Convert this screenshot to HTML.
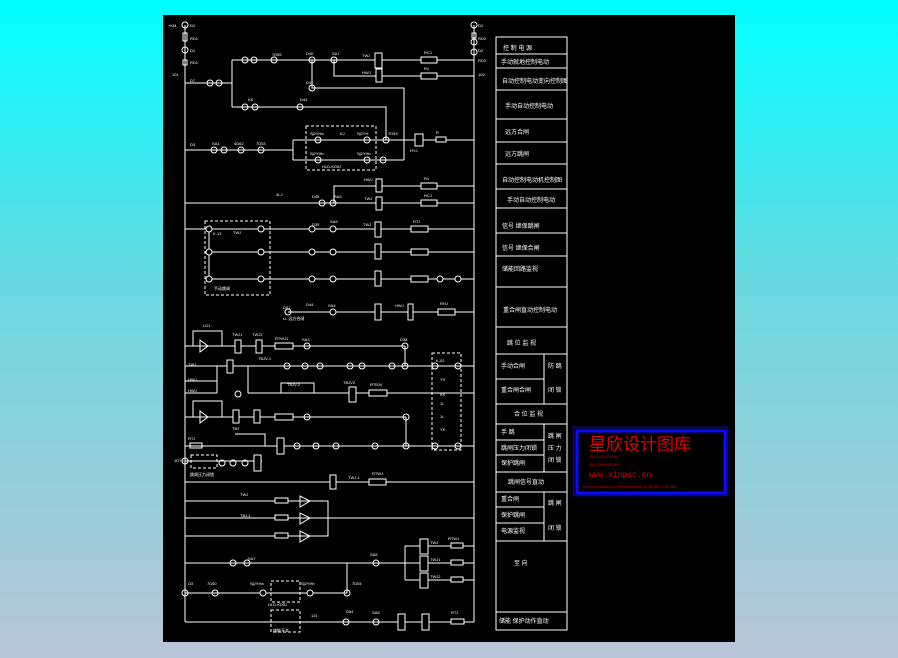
<!DOCTYPE html>
<html><head><meta charset="utf-8"><style>
html,body{margin:0;padding:0;width:898px;height:658px;overflow:hidden;background:linear-gradient(#00ffff 0%,#6fd8e0 45%,#b9c5d6 100%);}
svg{position:absolute;left:0;top:0}
text{font-family:"Liberation Sans","Noto Sans CJK SC",sans-serif;fill:#fff}
</style></head><body>
<svg width="898" height="658" viewBox="0 0 898 658">
<rect x="163" y="15" width="572" height="627" fill="#000"/>
<g stroke="#fff" stroke-width="1" fill="none">
<!-- buses -->
<line x1="185" y1="83" x2="185" y2="622"/>
<line x1="474" y1="60" x2="474" y2="622"/>
<line x1="185" y1="25" x2="185" y2="83"/>
<line x1="474" y1="25" x2="474" y2="60"/>
<circle cx="185" cy="25" r="3"/><rect x="183" y="33" width="4" height="8"/><circle cx="185" cy="50" r="3"/><rect x="183" y="60" width="4" height="5"/>
<circle cx="474" cy="25" r="3"/><rect x="472" y="33" width="4" height="5"/><circle cx="474" cy="42" r="3"/><circle cx="474" cy="52" r="3"/>
<!-- top rows -->
<line x1="185" y1="83" x2="232" y2="83"/><circle cx="210" cy="83" r="3"/><circle cx="219" cy="83" r="3"/>
<line x1="232" y1="60" x2="232" y2="107"/>
<line x1="232" y1="60" x2="474" y2="60"/><circle cx="245" cy="60" r="3"/><circle cx="254" cy="60" r="3"/><circle cx="274" cy="60" r="3"/><circle cx="312" cy="60" r="3"/><circle cx="334" cy="60" r="3"/>
<rect x="375" y="53" width="7" height="15" fill="#000"/><rect x="421" y="57" width="16" height="6" fill="#000"/>
<polyline points="334,60 334,76 474,76"/><rect x="376" y="69" width="6" height="13" fill="#000"/><rect x="421" y="73" width="16" height="6" fill="#000"/>
<polyline points="312,60 312,88 404,88 404,160"/><circle cx="312" cy="88" r="3"/>
<polyline points="232,107 386,107 386,140"/><circle cx="245" cy="107" r="3"/><circle cx="255" cy="107" r="3"/><circle cx="300" cy="107" r="3"/>
<line x1="185" y1="150" x2="293" y2="150"/><circle cx="214" cy="150" r="3"/><circle cx="224" cy="150" r="3"/><circle cx="241" cy="150" r="3"/><circle cx="261" cy="150" r="3"/>
<polyline points="293,140 293,160"/><line x1="293" y1="140" x2="474" y2="140"/><line x1="293" y1="160" x2="404" y2="160"/>
<circle cx="318" cy="140" r="3"/><circle cx="367" cy="140" r="3"/><circle cx="386" cy="140" r="3"/><circle cx="318" cy="160" r="3"/><circle cx="367" cy="160" r="3"/><circle cx="383" cy="160" r="3"/>
<rect x="306" y="126" width="70" height="44" stroke-dasharray="3,2"/>
<rect x="415" y="134" width="8" height="12" fill="#000"/><rect x="436" y="137" width="10" height="5" fill="#000"/>
<polyline points="334,203 334,186 474,186"/><rect x="376" y="179" width="6" height="13" fill="#000"/><rect x="421" y="183" width="16" height="6" fill="#000"/>
<line x1="185" y1="203" x2="474" y2="203"/><circle cx="322" cy="203" r="3"/><circle cx="333" cy="203" r="3"/><rect x="376" y="197" width="6" height="13" fill="#000"/><rect x="421" y="200" width="16" height="6" fill="#000"/>
<!-- rows 229 252 279 -->
<line x1="185" y1="229" x2="474" y2="229"/><line x1="209" y1="252" x2="474" y2="252"/><line x1="209" y1="279" x2="474" y2="279"/><line x1="209" y1="229" x2="209" y2="279"/>
<g fill="#000">
<circle cx="209" cy="229" r="3"/><circle cx="261" cy="229" r="3"/><circle cx="312" cy="229" r="3"/><circle cx="333" cy="229" r="3"/>
<circle cx="209" cy="252" r="3"/><circle cx="261" cy="252" r="3"/><circle cx="312" cy="252" r="3"/><circle cx="333" cy="252" r="3"/>
<circle cx="209" cy="279" r="3"/><circle cx="261" cy="279" r="3"/><circle cx="312" cy="279" r="3"/><circle cx="333" cy="279" r="3"/><circle cx="440" cy="279" r="3"/><circle cx="458" cy="279" r="3"/>
<rect x="375" y="222" width="6" height="15"/><rect x="411" y="226" width="17" height="6"/>
<rect x="375" y="244" width="6" height="15"/><rect x="411" y="249" width="17" height="6"/>
<rect x="375" y="271" width="6" height="15"/><rect x="411" y="276" width="17" height="6"/>
</g>
<rect x="205" y="221" width="65" height="74" stroke-dasharray="3,2"/>
<line x1="288" y1="312" x2="474" y2="312"/><circle cx="288" cy="312" r="3"/><circle cx="333" cy="312" r="3" fill="#000"/><rect x="375" y="304" width="6" height="16" fill="#000"/><rect x="408" y="304" width="5" height="16" fill="#000"/><rect x="438" y="309" width="17" height="6" fill="#000"/>
<!-- diode rows -->
<line x1="185" y1="346" x2="405" y2="346"/><polyline points="193,346 193,331 222,331 222,346"/><polygon points="200,340 200,352 208,346"/><rect x="235" y="340" width="6" height="13" fill="#000"/><rect x="256" y="340" width="6" height="13" fill="#000"/><rect x="275" y="343" width="18" height="6" fill="#000"/><circle cx="307" cy="346" r="3"/><circle cx="405" cy="346" r="3"/>
<line x1="405" y1="346" x2="405" y2="366"/>
<line x1="185" y1="366" x2="474" y2="366"/><rect x="227" y="360" width="6" height="13" fill="#000"/><circle cx="287" cy="366" r="3"/><circle cx="305" cy="366" r="3"/><circle cx="320" cy="366" r="3"/><circle cx="350" cy="366" r="3"/><circle cx="362" cy="366" r="3"/><circle cx="392" cy="366" r="3"/><circle cx="405" cy="366" r="3"/><circle cx="435" cy="366" r="3"/><circle cx="458" cy="366" r="3"/>
<rect x="432" y="353" width="29" height="97" stroke-dasharray="3,2"/>
<line x1="185" y1="381" x2="217" y2="381"/><line x1="185" y1="393" x2="217" y2="393"/><line x1="217" y1="366" x2="217" y2="393"/>
<line x1="248" y1="393" x2="474" y2="393"/><line x1="248" y1="366" x2="248" y2="393"/><circle cx="238" cy="394" r="3"/><rect x="349" y="387" width="7" height="15" fill="#000"/><rect x="369" y="390" width="18" height="6" fill="#000"/><rect x="281" y="383" width="33" height="10"/>
<line x1="185" y1="417" x2="406" y2="417"/><polyline points="193,417 193,401 222,401 222,417"/><polygon points="200,411 200,423 208,417"/><rect x="233" y="410" width="6" height="13" fill="#000"/><rect x="254" y="410" width="6" height="13" fill="#000"/><rect x="275" y="414" width="18" height="6" fill="#000"/><circle cx="307" cy="417" r="3"/><circle cx="406" cy="417" r="3"/><line x1="406" y1="417" x2="406" y2="446"/>
<!-- lower -->
<line x1="185" y1="446" x2="474" y2="446"/><rect x="277" y="438" width="7" height="16" fill="#000"/><circle cx="297" cy="446" r="3"/><circle cx="316" cy="446" r="3"/><circle cx="336" cy="446" r="3"/><circle cx="375" cy="446" r="3"/><circle cx="406" cy="446" r="3"/><circle cx="435" cy="446" r="3"/><circle cx="458" cy="446" r="3"/>
<rect x="190" y="443" width="12" height="5"/><polyline points="265,446 265,434 235,434"/>
<line x1="185" y1="461" x2="262" y2="461"/><circle cx="185" cy="461" r="3"/><rect x="191" y="455" width="26" height="13" stroke-dasharray="3,2"/><circle cx="222" cy="463" r="3"/><circle cx="233" cy="463" r="3"/><circle cx="245" cy="463" r="3"/><rect x="254" y="455" width="7" height="16" fill="#000"/>
<line x1="185" y1="482" x2="474" y2="482"/><rect x="330" y="475" width="6" height="14" fill="#000"/><rect x="369" y="479" width="17" height="6" fill="#000"/>
<polyline points="185,501 328,501 328,536 185,536"/><line x1="185" y1="518" x2="474" y2="518"/>
<rect x="275" y="498" width="13" height="5" fill="#000"/><rect x="275" y="515" width="13" height="5" fill="#000"/><rect x="275" y="533" width="13" height="5" fill="#000"/>
<polygon points="300,496 300,507 310,501"/><polygon points="300,513 300,524 310,518"/><polygon points="300,531 300,542 310,536"/>
<line x1="185" y1="563" x2="405" y2="563"/><circle cx="233" cy="563" r="3"/><circle cx="247" cy="563" r="3"/><circle cx="376" cy="563" r="3"/>
<polyline points="405,546 474,546"/><line x1="405" y1="580" x2="474" y2="580"/><line x1="405" y1="546" x2="405" y2="580"/><line x1="405" y1="563" x2="474" y2="563"/>
<rect x="420" y="539" width="8" height="15" fill="#000"/><rect x="420" y="556" width="8" height="15" fill="#000"/><rect x="420" y="573" width="8" height="15" fill="#000"/>
<rect x="451" y="543" width="12" height="5" fill="#000"/><rect x="451" y="560" width="12" height="5" fill="#000"/><rect x="451" y="577" width="12" height="5" fill="#000"/>
<line x1="185" y1="593" x2="347" y2="593"/><line x1="347" y1="563" x2="347" y2="593"/><circle cx="185" cy="593" r="3"/><circle cx="215" cy="593" r="3"/><circle cx="263" cy="593" r="3" fill="#000"/><circle cx="310" cy="593" r="3" fill="#000"/><circle cx="347" cy="593" r="3"/>
<rect x="271" y="581" width="29" height="21" stroke-dasharray="3,2"/>
<line x1="185" y1="622" x2="474" y2="622"/><circle cx="346" cy="622" r="3"/><circle cx="376" cy="622" r="3"/><rect x="398" y="614" width="7" height="16" fill="#000"/><rect x="422" y="614" width="7" height="16" fill="#000"/><rect x="451" y="619" width="13" height="5" fill="#000"/>
<rect x="271" y="610" width="29" height="22" stroke-dasharray="3,2"/>
<!-- table -->
<rect x="496" y="37" width="71" height="593"/>
<path d="M496 54H567M496 68H567M496 90H567M496 119H567M496 142H567M496 164H567M496 189H567M496 208H567M496 233H567M496 256H567M496 287H567M496 327H567M496 354H567M496 379H544M496 404H567M496 424H567M496 440H544M496 455H544M496 472H567M496 492H567M496 507H544M496 523H544M496 541H567M496 612H567M544 354V404M544 424V472M544 492V541"/>
</g>
<g font-size="6">
<text x="503" y="50">控 制 电 源</text><text x="501" y="64">手动就地控制电动</text><text x="502" y="83">自动控制电动变向控制图</text><text x="505" y="108">手动自动控制电动</text><text x="505" y="134">远方合闸</text><text x="505" y="156">远方跳闸</text><text x="502" y="182">自动控制电动机控制图</text><text x="507" y="202">手动自动控制电动</text><text x="502" y="228">信号 继保跳闸</text><text x="502" y="250">信号 继保合闸</text><text x="502" y="271">储能回路监视</text><text x="503" y="312">重合闸直动控制电动</text>
<text x="507" y="345">跳 位 监 视</text><text x="501" y="368">手动合闸</text><text x="548" y="368">防 跳</text><text x="501" y="392">重合闸合闸</text><text x="548" y="392">闭 锁</text><text x="514" y="416">合 位 监 视</text><text x="501" y="434">手 跳</text><text x="548" y="438">跳 闸</text><text x="501" y="450">跳闸压力闭锁</text><text x="548" y="450">压 力</text><text x="501" y="465">保护跳闸</text><text x="548" y="462">闭 锁</text><text x="508" y="484">跳闸信号直动</text><text x="501" y="501">重合闸</text><text x="548" y="505">跳 闸</text><text x="501" y="517">保护跳闸</text><text x="501" y="533">电源监视</text><text x="548" y="530">闭 锁</text><text x="514" y="565">至 向</text><text x="499" y="623">储能 保护动作直动</text>
</g>
<g font-size="4">
<text x="168" y="27">+KM</text><text x="190" y="27">D1</text><text x="190" y="40">RD1</text><text x="190" y="52">D1</text><text x="190" y="64">RD1</text><text x="172" y="76">101</text><text x="190" y="82">D7</text><text x="478" y="27">D1</text><text x="478" y="40">RD2</text><text x="478" y="52">D2</text><text x="478" y="62">RD2</text><text x="478" y="76">102</text>
<text x="272" y="56">7D55</text><text x="306" y="55">D40</text><text x="332" y="55">SA7</text><text x="362" y="57">TWJ</text><text x="424" y="54">RCJ</text><text x="362" y="74">HWJ</text><text x="424" y="70">R1</text><text x="306" y="84">D41</text><text x="248" y="101">KK</text><text x="300" y="101">D44</text><text x="190" y="146">D3</text><text x="212" y="145">SA1</text><text x="234" y="145">4D62</text><text x="256" y="145">7D53</text><text x="310" y="135">Sj2YHa</text><text x="340" y="135">KJ</text><text x="357" y="135">Sj2YH</text><text x="388" y="135">7D53</text><text x="310" y="155">Sj2YHb</text><text x="357" y="155">Sj2YHb</text><text x="410" y="152">HYJ</text><text x="436" y="134">R</text><text x="322" y="168">HLD-KD5J</text><text x="276" y="196">4LJ</text><text x="312" y="198">D45</text><text x="334" y="198">SA5</text><text x="364" y="200">TWJ</text><text x="424" y="197">RCJ</text><text x="364" y="181">HWJ</text><text x="424" y="180">R1</text>
<text x="233" y="234">TWJ</text><text x="213" y="235">K-12</text><text x="312" y="226">D35</text><text x="330" y="223">SA5</text><text x="363" y="226">TWJ</text><text x="413" y="223">RTJ</text><text x="214" y="290">手动跳闸</text><text x="283" y="309">D51</text><text x="306" y="306">D44</text><text x="328" y="307">SA4</text><text x="395" y="307">HWJ</text><text x="440" y="305">RHJ</text><text x="283" y="320">LL 远方合闸</text>
<text x="203" y="327">LD1</text><text x="232" y="336">TWJ1</text><text x="252" y="336">TWJ2</text><text x="275" y="340">RTWJ1</text><text x="302" y="341">SA3</text><text x="400" y="341">D38</text><text x="188" y="366">TWJ</text><text x="188" y="381">HWJ</text><text x="188" y="392">HWJ</text><text x="258" y="360">TBJV-1</text><text x="287" y="386">TBJV-2</text><text x="343" y="384">TBJV2</text><text x="370" y="386">RTBJV</text><text x="436" y="362">K-02</text><text x="440" y="381">YX</text><text x="440" y="396">KK</text><text x="440" y="405">1L</text><text x="440" y="418">1L</text><text x="440" y="431">YK</text>
<text x="188" y="440">RTJ</text><text x="232" y="430">TBJ</text><text x="174" y="462">1D70</text><text x="190" y="476">跳闸压力闭锁</text><text x="240" y="496">TWJ</text><text x="240" y="517">TBJ-1</text><text x="348" y="479">TWJ-1</text><text x="372" y="475">RTWJ</text><text x="248" y="560">SA7</text><text x="370" y="556">SA5</text><text x="430" y="544">TWJ</text><text x="430" y="561">TWJ1</text><text x="430" y="578">TWJ2</text><text x="448" y="540">RTWJ</text><text x="188" y="585">D3</text><text x="207" y="585">7D50</text><text x="250" y="585">Sj2YHa</text><text x="301" y="585">Sj2YHb</text><text x="352" y="585">7D54</text><text x="268" y="606">HLD-KD5J</text><text x="346" y="613">D54</text><text x="372" y="614">SA5</text><text x="311" y="617">121</text><text x="451" y="614">RTJ</text><text x="273" y="632">储能开关</text>
</g>
<!-- logo -->
<rect x="573.5" y="427.5" width="154" height="68" fill="none" stroke="#0000c8" stroke-width="1.5"/>
<rect x="577" y="431" width="148" height="62" fill="none" stroke="#0a0aff" stroke-width="3"/>
<text x="589" y="450" font-size="17" style="fill:#e00000;font-family:'Liberation Sans','Noto Sans CJK SC',sans-serif">星欣设计图库</text>
<text x="589" y="458" font-size="4" style="fill:#e00000">QQ:1400709098</text>
<text x="589" y="466" font-size="4" style="fill:#e00000">QQ:2089991098</text>
<text x="589" y="477" font-size="8" style="fill:#e00000;font-family:'Liberation Mono',monospace">www.xinpsc.cn</text>
<text x="583" y="488" font-size="3.5" style="fill:#e00000">Email:xinpsc@qq.com WebSite:xinpsc.cn Tel:0817-7622358</text>
</svg>
</body></html>
